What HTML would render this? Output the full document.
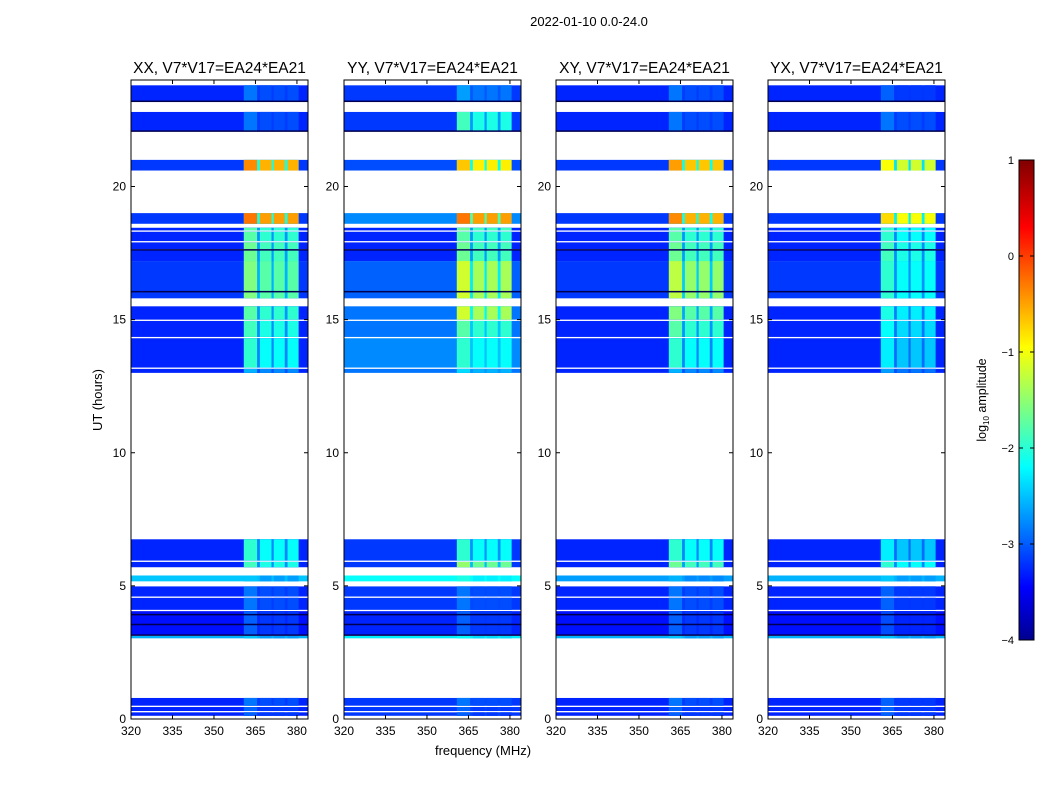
<!DOCTYPE html>
<html><head><meta charset="utf-8">
<style>
html,body{margin:0;padding:0;background:#fff;}
svg{display:block;font-family:"Liberation Sans",sans-serif;}
</style></head>
<body>
<svg id="chart" width="1050" height="800" viewBox="0 0 1050 800" xmlns="http://www.w3.org/2000/svg">
<defs>
<linearGradient id="jet" x1="0" y1="1" x2="0" y2="0">
<stop offset="0" stop-color="#00008f"/>
<stop offset="0.11" stop-color="#0000ff"/>
<stop offset="0.36" stop-color="#00ffff"/>
<stop offset="0.61" stop-color="#ffff00"/>
<stop offset="0.86" stop-color="#ff0000"/>
<stop offset="1" stop-color="#800000"/>
</linearGradient>
</defs>
<text x="589" y="26" font-size="13" text-anchor="middle">2022-01-10 0.0-24.0</text>
<text x="102" y="400" font-size="13" text-anchor="middle" transform="rotate(-90 102 400)">UT (hours)</text>
<text x="483" y="755" font-size="13" text-anchor="middle">frequency (MHz)</text>
<g id="panels"></g>
<g id="cbar"></g>
</svg>
<script>
const panelTitles = ["XX, V7*V17=EA24*EA21","YY, V7*V17=EA24*EA21","XY, V7*V17=EA24*EA21","YX, V7*V17=EA24*EA21"];
const segStart = [23.2,22.1,20.6,18.6,18.35,17.95,17.65,17.2,15.8,15.0,14.35,13.2,13.0,5.95,5.7,5.17,4.6,4.1,3.15,3.03,0.5,0.3,0.12];
const segEnd   = [23.8,22.8,21.0,19.0,18.45,18.3,17.9,17.6,17.2,15.5,14.95,14.3,13.15,6.75,5.9,5.39,4.98,4.55,4.05,3.12,0.79,0.45,0.25];
const baseXX = [-3.2,-3.2,-3.1,-3.1,-3.2,-3.2,-3.2,-3.2,-3.1,-3.2,-3.2,-3.2,-3.2,-3.2,-3.2,-2.4,-3.2,-3.2,-3.3,-2.5,-3.2,-3.2,-3.2];
const baseYY = [-3.1,-3.1,-3.0,-2.7,-3.2,-3.2,-3.2,-3.2,-2.9,-2.8,-2.8,-2.7,-2.8,-3.1,-3.1,-2.1,-3.1,-3.1,-3.2,-2.2,-3.1,-3.1,-3.1];
const baseXY = [-3.2,-3.2,-3.1,-3.1,-3.2,-3.2,-3.2,-3.2,-3.1,-3.2,-3.2,-3.2,-3.2,-3.2,-3.2,-2.6,-3.2,-3.2,-3.3,-2.5,-3.2,-3.2,-3.2];
const baseYX = [-3.2,-3.2,-3.1,-3.1,-3.2,-3.2,-3.2,-3.2,-3.1,-3.2,-3.2,-3.2,-3.2,-3.2,-3.2,-2.5,-3.2,-3.2,-3.3,-2.5,-3.2,-3.2,-3.2];
const rfiXX = [-2.9,-2.9,-0.4,-0.3,-1.8,-1.8,-1.7,-1.7,-1.6,-1.8,-1.9,-2.0,-2.6,-2.0,-1.9,-2.5,-2.9,-2.9,-3.0,-2.5,-2.9,-3.0,-3.0];
const rfiYY = [-2.7,-1.9,-0.7,-0.3,-1.7,-1.8,-1.7,-1.7,-1.2,-1.2,-1.8,-2.0,-2.4,-2.0,-1.5,-2.1,-2.9,-2.9,-3.0,-2.2,-2.9,-3.0,-3.0];
const rfiXY = [-2.9,-2.9,-0.5,-0.4,-1.8,-1.8,-1.7,-1.7,-1.3,-1.6,-1.8,-2.0,-2.6,-2.0,-1.7,-2.6,-2.9,-2.9,-3.0,-2.5,-2.9,-3.0,-3.0];
const rfiYX = [-3.0,-2.9,-1.0,-0.8,-2.0,-2.0,-1.9,-1.9,-2.0,-2.1,-2.2,-2.3,-2.7,-2.3,-2.0,-2.5,-3.0,-3.0,-3.1,-2.5,-3.0,-3.0,-3.0];
const rfiColStart = [360.8,366.6,371.6,376.6];
const rfiColEnd   = [365.6,370.8,375.6,380.6];
const darkLines = [23.2,22.08,17.62,16.05,3.92,3.55,3.15];
const yTicks = [0,5,10,15,20];
const xTicks = [320,335,350,365,380];
const cbTicks = [1,0,-1,-2,-3,-4];

const baseAll = [baseXX,baseYY,baseXY,baseYX];
const rfiAll = [rfiXX,rfiYY,rfiXY,rfiYX];
const panelLeft = [131,344,556,768];
const PW = 177, TOP = 80, BOT = 719;
const FMIN = 320, FMAX = 384, TMIN = 0, TMAX = 24;
const VMIN = -4, VMAX = 1;
const NS = "http://www.w3.org/2000/svg";

function yScale(h){ return BOT - (h - TMIN) / (TMAX - TMIN) * (BOT - TOP); }
function xScale(p, f){ return panelLeft[p] + (f - FMIN) / (FMAX - FMIN) * PW; }
function clamp(v){ return Math.max(0, Math.min(1, v)); }
function jet(v){
  const t = (v - VMIN) / (VMAX - VMIN);
  const r = clamp(1.5 - Math.abs(4*t - 3)), g = clamp(1.5 - Math.abs(4*t - 2)), b = clamp(1.5 - Math.abs(4*t - 1));
  return "rgb(" + Math.round(r*255) + "," + Math.round(g*255) + "," + Math.round(b*255) + ")";
}
function mk(tag, attrs, parent){
  const e = document.createElementNS(NS, tag);
  for (const k in attrs) e.setAttribute(k, attrs[k]);
  parent.appendChild(e);
  return e;
}
const panels = document.getElementById("panels");
for (let p = 0; p < 4; p++){
  const g = mk("g", {}, panels);
  
  
  for (let s = 0; s < segStart.length; s++){
    const y0 = yScale(segEnd[s]), y1 = yScale(segStart[s]);
    const base = baseAll[p][s], rfi = rfiAll[p][s];
    const r = mk("rect", {x: xScale(p, FMIN), y: y0, width: PW, height: y1 - y0, fill: jet(base)}, g);
    
    
    const gap = mk("rect", {x: xScale(p, rfiColStart[0]), y: y0, width: xScale(p, rfiColEnd[3]) - xScale(p, rfiColStart[0]), height: y1 - y0, fill: jet(base + 0.4*(rfi - base))}, g);
    
    
    for (let c = 0; c < rfiColStart.length; c++){
      const cr = mk("rect", {x: xScale(p, rfiColStart[c]), y: y0, width: xScale(p, rfiColEnd[c]) - xScale(p, rfiColStart[c]), height: y1 - y0, fill: jet(rfi + (c === 0 ? 0.1 : -0.1))}, g);
      
      
    }
  }
  for (const h of darkLines){
    const l = mk("rect", {x: xScale(p, FMIN), y: yScale(h) - 0.75, width: PW, height: 1.5, fill: "#000050"}, g);
    
    
  }
  const fr = mk("rect", {x: panelLeft[p], y: TOP, width: PW, height: BOT - TOP, fill: "none", stroke: "#000", "stroke-width": 1}, g);
  
  
  for (const t of yTicks){
    const y = yScale(t);
    mk("line", {x1: panelLeft[p], x2: panelLeft[p] + 4, y1: y, y2: y, stroke: "#000"}, g);
    mk("line", {x1: panelLeft[p] + PW, x2: panelLeft[p] + PW - 4, y1: y, y2: y, stroke: "#000"}, g);
    const tx = mk("text", {x: panelLeft[p] - 5, y: y + 4, "font-size": 12, "text-anchor": "end"}, g);
    tx.textContent = t;
    
    
  }
  for (const f of xTicks){
    const x = xScale(p, f);
    mk("line", {x1: x, x2: x, y1: BOT, y2: BOT - 4, stroke: "#000"}, g);
    mk("line", {x1: x, x2: x, y1: TOP, y2: TOP + 4, stroke: "#000"}, g);
    const tx = mk("text", {x: x, y: BOT + 16, "font-size": 12, "text-anchor": "middle"}, g);
    tx.textContent = f;
    
    
  }
  const tt = mk("text", {x: panelLeft[p] + PW/2, y: 73, "font-size": 15.5, "text-anchor": "middle"}, g);
  tt.textContent = panelTitles[p];
  
  
}
const cb = document.getElementById("cbar");
const CBX = 1019, CBW = 15, CBT = 160, CBB = 640;
function cbY(v){ return CBB - (v - VMIN) / (VMAX - VMIN) * (CBB - CBT); }
mk("rect", {x: CBX, y: CBT, width: CBW, height: CBB - CBT, fill: "url(#jet)", stroke: "#000", "stroke-width": 1}, cb);
for (const v of cbTicks){
  const y = cbY(v);
  mk("line", {x1: CBX, x2: CBX + 4, y1: y, y2: y, stroke: "#000"}, cb);
  mk("line", {x1: CBX + CBW, x2: CBX + CBW - 4, y1: y, y2: y, stroke: "#000"}, cb);
  const tx = mk("text", {x: CBX - 5, y: y + 4, "font-size": 11, "text-anchor": "end"}, cb);
  tx.textContent = v < 0 ? "\u2212" + (-v) : v;
  
  
}
const lbl = mk("text", {x: 986, y: 400, "font-size": 12.5, "text-anchor": "middle", transform: "rotate(-90 986 400)"}, cb);
lbl.innerHTML = 'log<tspan font-size="8" dy="3">10</tspan><tspan dy="-3"> amplitude</tspan>';


</script>
</body></html>
